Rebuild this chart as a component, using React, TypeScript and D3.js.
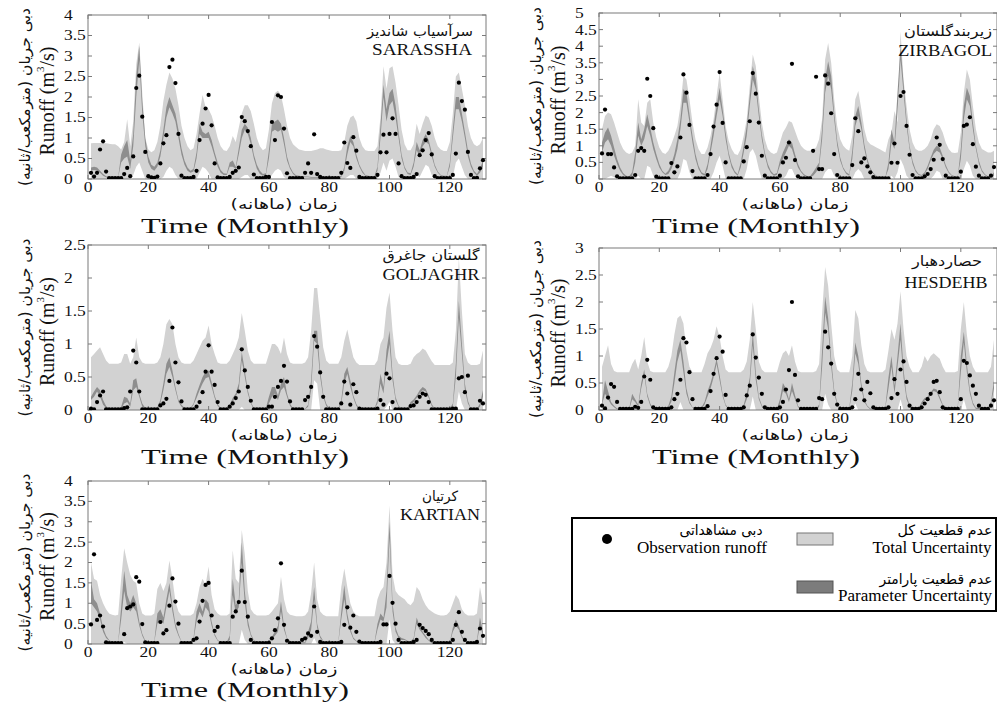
import React from 'react';
import * as d3 from 'd3';

// months 1..131, one value per month in every array below
const months = d3.range(1, 132);
const xTicks = [0, 20, 40, 60, 80, 100, 120];

// ---------- SARASSHA ----------
const obs1 = [
  0.15, 0.06, 0.15, 0.72, 0.92, 0.18, 0.02, 0.02, 0.02, 0.02,
  0.02, 0.12, 0.27, 0.07, 0.55, 2.22, 2.52, 1.52, 0.66, 0.07,
  0.04, 0.03, 0.06, 0.38, 0.87, 1.07, 2.73, 2.91, 2.34, 1.1,
  0.08, 0.02, 0.02, 0.02, 0.05, 0.2, 0.95, 1.35, 1.72, 2.05,
  1.31, 0.38, 0.04, 0.02, 0.02, 0.02, 0.05, 0.15, 0.2, 0.28,
  1.51, 1.41, 1.17, 0.8, 0.11, 0.02, 0.02, 0.02, 0.05, 0.05,
  1.39, 0.95, 2.04, 2.0, 1.23, 0.14, 0.02, 0.02, 0.02, 0.02,
  0.02, 0.15, 0.38, 0.15, 1.09, 0.12, 0.05, 0.02, 0.02, 0.02,
  0.02, 0.02, 0.02, 0.15, 0.89, 0.39, 0.27, 1.02, 0.69, 0.05,
  0.02, 0.02, 0.02, 0.02, 0.02, 0.1, 0.65, 1.08, 0.65, 1.1,
  1.48, 1.1, 0.38, 0.07, 0.02, 0.02, 0.02, 0.05, 0.12, 0.58,
  0.7, 0.95, 1.12, 0.6, 0.07, 0.02, 0.02, 0.02, 0.02, 0.02,
  0.1, 0.62, 2.35, 1.9, 1.69, 0.66, 0.1, 0.02, 0.03, 0.26, 0.46,
];
const totHi1 = [
  0.87, 0.88, 0.88, 0.88, 0.88, 0.87, 0.86, 0.85, 0.85, 0.8,
  0.72, 0.9, 1.46, 0.8, 1.4, 2.8, 3.33, 2.1, 1.0, 0.72,
  0.65, 0.7, 0.9, 1.3, 1.9, 2.3, 2.6, 2.45, 2.2, 1.8,
  1.3, 1.0, 0.8, 0.7, 0.75, 1.1, 1.6, 2.05, 1.75, 1.7,
  1.55, 1.3, 1.0, 0.8, 0.7, 0.68, 0.8, 1.05, 0.9, 1.25,
  1.6, 1.8, 1.8, 1.65, 1.35, 1.0, 0.8, 0.7, 0.75, 1.2,
  1.85, 2.1, 2.15, 2.05, 1.7, 1.3, 1.0, 0.85, 0.78, 0.72,
  0.7, 0.68, 0.68, 0.68, 0.7, 0.72, 0.75, 0.75, 0.72, 0.7,
  0.68, 0.68, 0.68, 0.7, 0.9, 1.3, 1.5, 1.55, 1.4, 1.0,
  0.8, 0.7, 0.68, 0.68, 0.68, 0.8, 1.5, 2.75, 2.2, 2.7,
  2.75, 2.35, 1.8, 1.2, 0.85, 0.7, 0.7, 0.85, 1.35, 1.1,
  1.35, 1.55, 1.5, 1.3, 1.0, 0.8, 0.72, 0.68, 0.68, 0.9,
  1.6, 2.5, 2.6, 2.2, 1.8, 1.3, 1.0, 0.85, 0.8, 0.85, 1.0,
];
const totLo1 = [
  0, 0, 0, 0, 0, 0, 0, 0, 0, 0,
  0, 0, 0, 0, 0.1, 0.3, 0.4, 0.2, 0, 0,
  0, 0, 0, 0, 0.05, 0.2, 0.3, 0.25, 0.1, 0,
  0, 0, 0, 0, 0, 0, 0.15, 0.3, 0.25, 0.15,
  0, 0, 0, 0, 0, 0, 0, 0, 0, 0,
  0.05, 0.1, 0.1, 0, 0, 0, 0, 0, 0, 0,
  0.1, 0.2, 0.25, 0.2, 0.05, 0, 0, 0, 0, 0,
  0, 0, 0, 0, 0, 0, 0, 0, 0, 0,
  0, 0, 0, 0, 0, 0.05, 0.1, 0.1, 0, 0,
  0, 0, 0, 0, 0, 0, 0.15, 0.4, 0.2, 0.45,
  0.5, 0.3, 0.05, 0, 0, 0, 0, 0, 0.1, 0.05,
  0.2, 0.35, 0.3, 0.1, 0, 0, 0, 0, 0, 0,
  0.05, 0.4, 0.5, 0.3, 0.1, 0, 0, 0, 0, 0, 0,
];
const parLo1 = [
  0.2, 0.22, 0.2, 0.15, 0.08, 0.04, 0.02, 0.02, 0.02, 0.03,
  0.4, 0.5, 0.55, 0.25, 0.8, 2.0, 2.9, 1.6, 0.8, 0.4,
  0.25, 0.2, 0.3, 0.55, 1.0, 1.5, 1.75, 1.6, 1.4, 1.0,
  0.6, 0.35, 0.2, 0.15, 0.18, 0.5, 1.1, 1.0, 1.0, 1.0,
  0.8, 0.55, 0.3, 0.15, 0.1, 0.1, 0.3, 0.3, 0.25, 0.6,
  1.0, 1.2, 1.1, 0.85, 0.5, 0.25, 0.12, 0.08, 0.1, 0.5,
  1.15, 1.2, 1.15, 1.2, 0.85, 0.45, 0.25, 0.12, 0.06, 0.05,
  0.05, 0.04, 0.04, 0.03, 0.03, 0.03, 0.02, 0.02, 0.02, 0.02,
  0.02, 0.02, 0.02, 0.05, 0.2, 0.6, 0.9, 0.8, 0.5, 0.3,
  0.15, 0.08, 0.05, 0.05, 0.05, 0.2, 1.0, 2.0, 1.4, 1.8,
  1.9, 1.5, 1.0, 0.5, 0.25, 0.12, 0.1, 0.3, 0.7, 0.55,
  0.8, 0.9, 0.85, 0.55, 0.3, 0.15, 0.08, 0.06, 0.06, 0.3,
  1.0, 1.7, 1.7, 1.4, 1.0, 0.55, 0.3, 0.15, 0.08, 0.15, 0.3,
];
const parHi1 = [
  0.28, 0.3, 0.28, 0.2, 0.12, 0.07, 0.04, 0.03, 0.03, 0.05,
  0.6, 0.8, 0.95, 0.45, 1.1, 2.5, 3.25, 1.9, 1.0, 0.55,
  0.35, 0.3, 0.4, 0.7, 1.2, 1.75, 2.0, 1.8, 1.6, 1.2,
  0.75, 0.45, 0.28, 0.2, 0.25, 0.65, 1.35, 1.15, 1.1, 1.15,
  0.95, 0.65, 0.4, 0.22, 0.14, 0.13, 0.4, 0.45, 0.3, 0.75,
  1.2, 1.35, 1.25, 1.0, 0.6, 0.35, 0.2, 0.12, 0.14, 0.7,
  1.35, 1.4, 1.45, 1.35, 1.0, 0.55, 0.3, 0.16, 0.09, 0.08,
  0.07, 0.06, 0.06, 0.05, 0.05, 0.05, 0.04, 0.04, 0.04, 0.04,
  0.04, 0.04, 0.04, 0.08, 0.3, 0.8, 1.05, 0.9, 0.6, 0.35,
  0.2, 0.1, 0.08, 0.07, 0.07, 0.3, 1.3, 2.3, 1.7, 2.1,
  2.2, 1.8, 1.15, 0.6, 0.3, 0.16, 0.14, 0.4, 0.9, 0.7,
  0.95, 1.1, 0.95, 0.65, 0.35, 0.18, 0.1, 0.08, 0.08, 0.4,
  1.2, 2.0, 2.0, 1.6, 1.15, 0.7, 0.38, 0.2, 0.12, 0.25, 0.45,
];

// ---------- ZIRBAGOL ----------
const obs2 = [
  0.77, 2.09, 0.75, 0.75, 0.35, 0.08, 0.02, 0.02, 0.02, 0.02,
  0.02, 0.12, 0.85, 0.93, 0.85, 3.02, 2.5, 1.53, 0.07, 0.02,
  0.02, 0.02, 0.02, 0.48, 0.2, 0.38, 1.25, 3.15, 2.6, 1.63,
  0.24, 0.02, 0.02, 0.02, 0.02, 0.12, 0.75, 1.58, 2.24, 3.22,
  1.69, 0.5, 0.02, 0.02, 0.02, 0.02, 0.02, 0.53, 0.96, 1.74,
  3.19, 2.57, 1.7, 0.7, 0.1, 0.02, 0.02, 0.02, 0.02, 0.1,
  0.5, 0.64, 1.1, 3.47, 0.57, 0.08, 0.02, 0.02, 0.02, 0.02,
  0.85, 3.08, 0.3, 0.3, 3.12, 2.87, 1.98, 0.75, 0.12, 0.02,
  0.02, 0.02, 0.02, 0.42, 1.83, 1.44, 0.5, 0.62, 0.38, 0.2,
  0.06, 0.02, 0.02, 0.02, 0.02, 0.02, 0.49, 1.07, 0.49, 2.5,
  2.62, 1.6, 0.73, 0.12, 0.02, 0.02, 0.02, 0.08, 0.15, 0.3,
  0.58, 1.25, 1.03, 0.6, 0.1, 0.02, 0.02, 0.02, 0.02, 0.22,
  1.6, 1.64, 1.86, 1.05, 0.37, 0.1, 0.02, 0.02, 0.02, 0.1, 0.36,
];
const totHi2 = [
  1.5, 1.9, 2.0, 1.95, 1.7, 1.4, 1.1, 0.9, 0.8, 0.75,
  0.8, 1.0, 2.4, 1.7, 1.6, 2.3, 2.4, 1.7, 1.25, 0.95,
  0.8, 0.75, 0.85, 1.05, 1.3, 1.6, 2.2, 3.1, 3.0, 2.4,
  1.7, 1.2, 0.9, 0.75, 0.75, 0.95, 1.3, 1.8, 2.5, 3.2,
  2.4, 1.6, 1.15, 0.9, 0.75, 0.72, 0.9, 1.3, 1.8, 2.8,
  3.75, 3.4, 2.5, 1.7, 1.2, 0.9, 0.8, 0.75, 0.8, 1.1,
  1.4, 1.55, 1.75, 1.7, 1.45, 1.2, 1.0, 0.9, 0.85, 0.85,
  0.9, 0.95, 1.2, 1.8, 3.6, 4.1, 3.5, 2.4, 1.6, 1.2,
  1.0, 0.9, 0.85, 1.3, 2.4, 2.65, 2.1, 1.5, 1.15, 1.05,
  1.0, 0.95, 0.9, 0.85, 0.8, 1.2, 1.4, 2.05, 1.7, 4.45,
  3.0, 2.2, 1.5, 1.1, 0.9, 0.85, 0.85, 0.9, 1.0, 1.2,
  1.5, 1.65, 1.6, 1.4, 1.1, 0.9, 0.8, 0.78, 0.8, 1.4,
  2.6, 3.3, 3.0, 2.2, 1.5, 1.1, 0.9, 0.85, 0.8, 0.8, 0.85,
];
const totLo2 = [
  0, 0, 0.05, 0.1, 0.05, 0, 0, 0, 0, 0,
  0, 0, 0.1, 0, 0, 0.4, 0.35, 0.1, 0, 0,
  0, 0, 0, 0, 0, 0, 0.2, 0.6, 0.55, 0.2,
  0, 0, 0, 0, 0, 0, 0, 0.2, 0.5, 0.7,
  0.4, 0, 0, 0, 0, 0, 0, 0, 0.3, 0.8,
  0.9, 0.7, 0.3, 0, 0, 0, 0, 0, 0, 0,
  0, 0.1, 0.3, 0.3, 0.1, 0, 0, 0, 0, 0,
  0, 0, 0, 0, 0.2, 0.3, 0.3, 0.1, 0, 0,
  0, 0, 0, 0, 0.2, 0.3, 0.2, 0, 0, 0,
  0, 0, 0, 0, 0, 0, 0.1, 0, 0.2, 0.6,
  0.4, 0.1, 0, 0, 0, 0, 0, 0, 0, 0,
  0.1, 0.25, 0.2, 0, 0, 0, 0, 0, 0, 0,
  0.3, 0.55, 0.4, 0.1, 0, 0, 0, 0, 0, 0, 0,
];
const parLo2 = [
  0.8, 1.1, 1.2, 1.0, 0.7, 0.45, 0.25, 0.12, 0.06, 0.05,
  0.1, 0.5, 1.3, 1.0, 1.2, 1.6, 1.3, 0.9, 0.6, 0.35,
  0.2, 0.12, 0.15, 0.3, 0.55, 0.9, 1.5, 2.3, 2.3, 1.7,
  1.1, 0.6, 0.3, 0.15, 0.1, 0.3, 0.8, 1.3, 1.9, 2.4,
  1.9, 1.2, 0.7, 0.35, 0.18, 0.1, 0.35, 0.8, 1.3, 2.2,
  3.0, 2.7, 1.9, 1.2, 0.7, 0.35, 0.18, 0.1, 0.12, 0.4,
  0.6, 0.8, 1.0, 0.9, 0.6, 0.35, 0.2, 0.1, 0.06, 0.05,
  0.1, 0.2, 0.35, 1.2, 2.6, 3.1, 2.7, 1.8, 1.0, 0.55,
  0.3, 0.15, 0.1, 0.6, 1.6, 1.9, 1.5, 0.9, 0.5, 0.28,
  0.15, 0.08, 0.05, 0.05, 0.05, 0.3, 1.1, 0.9, 2.0, 3.6,
  2.6, 1.6, 0.9, 0.45, 0.22, 0.12, 0.1, 0.15, 0.3, 0.55,
  0.75, 0.85, 0.8, 0.6, 0.35, 0.18, 0.1, 0.06, 0.08, 0.6,
  1.8, 2.4, 2.2, 1.5, 0.9, 0.45, 0.22, 0.11, 0.06, 0.05, 0.1,
];
const parHi2 = [
  1.1, 1.4, 1.55, 1.3, 0.95, 0.6, 0.35, 0.18, 0.1, 0.08,
  0.2, 0.8, 1.7, 1.2, 1.5, 1.95, 1.55, 1.1, 0.75, 0.45,
  0.25, 0.16, 0.25, 0.45, 0.75, 1.2, 1.8, 2.7, 2.6, 1.95,
  1.3, 0.75, 0.4, 0.2, 0.15, 0.45, 1.0, 1.6, 2.2, 2.75,
  2.1, 1.4, 0.8, 0.45, 0.24, 0.14, 0.5, 1.0, 1.6, 2.5,
  3.4, 3.0, 2.1, 1.35, 0.8, 0.45, 0.24, 0.14, 0.18, 0.55,
  0.8, 1.0, 1.2, 1.1, 0.75, 0.45, 0.25, 0.14, 0.09, 0.08,
  0.2, 0.35, 0.5, 1.5, 3.0, 3.55, 3.1, 2.0, 1.15, 0.65,
  0.35, 0.2, 0.14, 0.85, 1.9, 2.2, 1.7, 1.05, 0.6, 0.33,
  0.18, 0.1, 0.07, 0.07, 0.07, 0.5, 1.5, 1.1, 2.6, 4.0,
  2.9, 1.8, 1.0, 0.55, 0.28, 0.15, 0.12, 0.2, 0.4, 0.65,
  0.88, 1.0, 0.95, 0.7, 0.42, 0.22, 0.12, 0.08, 0.1, 0.9,
  2.2, 2.75, 2.5, 1.7, 1.0, 0.55, 0.27, 0.14, 0.08, 0.07, 0.2,
];

// ---------- GOLJAGHR ----------
const obs3 = [
  0.02, 0.01, 0.12, 0.22, 0.28, 0.01, 0.01, 0.01, 0.01, 0.01,
  0.01, 0.03, 0.04, 0.28, 0.9, 0.72, 0.28, 0.01, 0.01, 0.01,
  0.01, 0.01, 0.01, 0.07, 0.1, 0.17, 0.44, 1.25, 0.72, 0.42,
  0.13, 0.01, 0.01, 0.01, 0.01, 0.05, 0.12, 0.27, 0.58, 0.98,
  0.58, 0.38, 0.12, 0.01, 0.01, 0.01, 0.05, 0.1, 0.18, 0.28,
  0.92, 0.6, 0.35, 0.14, 0.01, 0.01, 0.01, 0.01, 0.01, 0.05,
  0.05, 0.2, 0.35, 0.44, 0.67, 0.43, 0.13, 0.01, 0.01, 0.01,
  0.01, 0.15, 0.2, 0.35, 1.12, 0.96, 0.57, 0.2, 0.01, 0.01,
  0.01, 0.01, 0.01, 0.1, 0.43, 0.25, 0.08, 0.39, 0.27, 0.02,
  0.01, 0.01, 0.01, 0.01, 0.01, 0.02, 0.15, 0.08, 0.55, 0.48,
  0.12, 0.01, 0.01, 0.01, 0.01, 0.01, 0.06, 0.07, 0.12, 0.2,
  0.25, 0.23, 0.12, 0.01, 0.01, 0.01, 0.01, 0.01, 0.01, 0.01,
  0.02, 0.02, 0.48, 0.5, 0.27, 0.52, 0.01, 0.01, 0.01, 0.14, 0.1,
];
const totHi3 = [
  0.8, 0.85, 0.9, 0.95, 0.85, 0.75, 0.7, 0.7, 0.7, 0.7,
  0.72, 0.85, 0.85, 0.7, 0.8, 1.1, 0.8, 0.72, 0.7, 0.7,
  0.7, 0.7, 0.72, 0.8, 1.0, 1.3, 1.38, 1.3, 1.0, 0.8,
  0.72, 0.7, 0.7, 0.7, 0.75, 0.85, 0.95, 1.05, 1.1, 1.28,
  1.0, 0.85, 0.72, 0.7, 0.7, 0.7, 0.75, 0.85, 0.95, 1.1,
  1.47, 1.2, 0.9, 0.75, 0.7, 0.7, 0.7, 0.7, 0.7, 0.85,
  1.0, 1.0, 0.95, 0.85, 1.1, 0.85, 0.72, 0.7, 0.7, 0.7,
  0.7, 0.72, 0.8, 1.2, 1.85, 1.85, 1.4, 0.95, 0.75, 0.7,
  0.7, 0.7, 0.7, 0.8, 1.05, 1.22, 1.0, 0.8, 0.72, 0.68,
  0.68, 0.68, 0.68, 0.68, 0.68, 0.75, 1.0, 1.1, 1.55, 1.78,
  1.2, 0.8, 0.7, 0.68, 0.68, 0.68, 0.7, 0.8, 0.85, 0.88,
  0.93, 0.9, 0.82, 0.74, 0.68, 0.68, 0.68, 0.68, 0.68, 0.68,
  0.72, 1.2, 2.3, 1.5, 0.85, 0.72, 0.68, 0.68, 0.68, 0.7, 0.9,
];
const totLo3 = [
  0, 0, 0, 0, 0, 0, 0, 0, 0, 0,
  0, 0, 0, 0, 0, 0, 0, 0, 0, 0,
  0, 0, 0, 0, 0, 0, 0, 0, 0, 0,
  0, 0, 0, 0, 0, 0, 0, 0, 0, 0,
  0, 0, 0, 0, 0, 0, 0, 0, 0, 0,
  0.05, 0, 0, 0, 0, 0, 0, 0, 0, 0,
  0, 0, 0, 0, 0, 0, 0, 0, 0, 0,
  0, 0, 0, 0, 0.45, 0.4, 0, 0, 0, 0,
  0, 0, 0, 0, 0, 0, 0, 0, 0, 0,
  0, 0, 0, 0, 0, 0, 0, 0, 0.05, 0.12,
  0, 0, 0, 0, 0, 0, 0, 0, 0, 0,
  0, 0, 0, 0, 0, 0, 0, 0, 0, 0,
  0, 0, 0.28, 0.1, 0, 0, 0, 0, 0, 0, 0,
];
const parLo3 = [
  0.15, 0.2, 0.28, 0.2, 0.08, 0.03, 0.01, 0.01, 0.01, 0.01,
  0.02, 0.1, 0.12, 0.05, 0.3, 0.35, 0.2, 0.05, 0.01, 0.01,
  0.01, 0.01, 0.02, 0.1, 0.3, 0.55, 0.65, 0.5, 0.3, 0.12,
  0.05, 0.01, 0.01, 0.01, 0.08, 0.18, 0.3, 0.4, 0.48, 0.5,
  0.35, 0.18, 0.06, 0.01, 0.01, 0.01, 0.05, 0.12, 0.2, 0.3,
  0.75, 0.5, 0.25, 0.1, 0.01, 0.01, 0.01, 0.01, 0.01, 0.1,
  0.2, 0.25, 0.15, 0.3, 0.35, 0.2, 0.06, 0.01, 0.01, 0.01,
  0.01, 0.01, 0.05, 0.3, 1.05, 1.0, 0.5, 0.2, 0.06, 0.01,
  0.01, 0.01, 0.01, 0.1, 0.4, 0.55, 0.35, 0.18, 0.06, 0.01,
  0.01, 0.01, 0.01, 0.01, 0.01, 0.1, 0.4, 0.25, 0.7, 1.0,
  0.45, 0.15, 0.05, 0.01, 0.01, 0.01, 0.08, 0.12, 0.18, 0.25,
  0.3, 0.28, 0.18, 0.06, 0.01, 0.01, 0.01, 0.01, 0.01, 0.01,
  0.05, 0.5, 1.4, 0.85, 0.3, 0.1, 0.01, 0.01, 0.01, 0.05, 0.2,
];
const parHi3 = [
  0.2, 0.28, 0.35, 0.3, 0.15, 0.06, 0.02, 0.02, 0.02, 0.02,
  0.05, 0.2, 0.18, 0.1, 0.45, 0.48, 0.25, 0.1, 0.03, 0.03,
  0.03, 0.03, 0.04, 0.15, 0.4, 0.7, 0.8, 0.6, 0.35, 0.15,
  0.08, 0.03, 0.03, 0.03, 0.1, 0.25, 0.38, 0.5, 0.58, 0.6,
  0.42, 0.22, 0.09, 0.03, 0.03, 0.03, 0.08, 0.18, 0.25, 0.4,
  0.88, 0.6, 0.3, 0.12, 0.03, 0.03, 0.03, 0.03, 0.03, 0.2,
  0.35, 0.35, 0.22, 0.4, 0.5, 0.25, 0.1, 0.02, 0.02, 0.02,
  0.02, 0.02, 0.08, 0.45, 1.2, 1.2, 0.6, 0.25, 0.1, 0.02,
  0.02, 0.02, 0.02, 0.15, 0.55, 0.65, 0.45, 0.22, 0.09, 0.02,
  0.02, 0.02, 0.02, 0.02, 0.02, 0.15, 0.55, 0.35, 0.9, 1.2,
  0.55, 0.2, 0.07, 0.02, 0.02, 0.02, 0.12, 0.16, 0.22, 0.3,
  0.35, 0.32, 0.22, 0.09, 0.02, 0.02, 0.02, 0.02, 0.02, 0.02,
  0.1, 0.7, 1.65, 1.0, 0.4, 0.14, 0.02, 0.02, 0.02, 0.1, 0.3,
];

// ---------- HESDEHB ----------
const obs4 = [
  0.08, 0.03, 0.23, 0.48, 0.43, 0.15, 0.02, 0.02, 0.02, 0.02,
  0.02, 0.06, 0.04, 0.15, 0.62, 0.93, 0.56, 0.05, 0.02, 0.02,
  0.02, 0.02, 0.02, 0.05, 0.2, 0.3, 0.56, 1.33, 1.25, 0.7,
  0.2, 0.02, 0.02, 0.02, 0.02, 0.07, 0.35, 0.67, 0.96, 1.36,
  1.08, 0.28, 0.02, 0.02, 0.02, 0.02, 0.02, 0.05, 0.27, 0.45,
  1.4, 0.97, 0.6, 0.3, 0.05, 0.02, 0.02, 0.02, 0.02, 0.05,
  0.15, 0.38, 0.74, 2.0, 0.65, 0.18, 0.02, 0.02, 0.02, 0.02,
  0.02, 0.02, 0.22, 0.2, 1.45, 1.16, 0.86, 0.3, 0.1, 0.02,
  0.02, 0.02, 0.02, 0.05, 0.2, 0.67, 0.38, 0.18, 0.52, 0.31,
  0.05, 0.02, 0.02, 0.02, 0.02, 0.05, 0.22, 0.57, 0.3, 0.75,
  0.9, 0.52, 0.08, 0.02, 0.02, 0.02, 0.05, 0.12, 0.2, 0.3,
  0.52, 0.54, 0.33, 0.05, 0.02, 0.02, 0.02, 0.02, 0.02, 0.2,
  0.91, 0.87, 0.64, 0.45, 0.3, 0.08, 0.02, 0.02, 0.02, 0.08, 0.18,
];
const totHi4 = [
  0.8, 1.0, 1.2, 0.85, 0.72, 0.7, 0.7, 0.7, 0.7, 0.7,
  0.85, 0.95, 0.75, 1.0, 1.35, 0.9, 0.72, 0.7, 0.7, 0.7,
  0.7, 0.7, 0.8, 1.0, 1.4, 1.7, 1.75, 1.6, 1.1, 0.8,
  0.7, 0.7, 0.7, 0.7, 0.85, 1.05, 1.15, 1.3, 1.55, 1.35,
  1.0, 0.75, 0.7, 0.7, 0.7, 0.7, 0.7, 0.75, 0.9, 1.3,
  2.0, 1.5, 0.9, 0.75, 0.7, 0.7, 0.7, 0.7, 0.7, 0.9,
  1.05, 1.1, 1.0, 1.2, 0.9, 0.72, 0.7, 0.7, 0.7, 0.7,
  0.7, 0.72, 0.85, 1.8, 2.65, 2.3, 1.6, 1.0, 0.75, 0.7,
  0.7, 0.7, 0.7, 1.0, 1.85, 1.7, 1.2, 0.85, 0.72, 0.7,
  0.7, 0.7, 0.7, 0.7, 0.75, 1.1, 1.5, 1.3, 1.6, 2.2,
  1.5, 1.0, 0.8, 0.7, 0.7, 0.7, 0.8, 1.0, 0.9, 1.0,
  1.05, 1.0, 0.95, 0.8, 0.7, 0.7, 0.7, 0.7, 0.72, 1.5,
  2.0, 1.4, 1.0, 0.8, 0.7, 0.7, 0.7, 0.7, 0.7, 0.8, 1.3,
];
const totLo4 = [
  0, 0, 0, 0, 0, 0, 0, 0, 0, 0,
  0, 0, 0, 0, 0, 0, 0, 0, 0, 0,
  0, 0, 0, 0, 0, 0, 0.15, 0, 0, 0,
  0, 0, 0, 0, 0, 0, 0, 0, 0, 0,
  0, 0, 0, 0, 0, 0, 0, 0, 0, 0,
  0.25, 0, 0, 0, 0, 0, 0, 0, 0, 0,
  0, 0, 0, 0, 0, 0, 0, 0, 0, 0,
  0, 0, 0, 0, 0.3, 0.1, 0, 0, 0, 0,
  0, 0, 0, 0, 0.12, 0, 0, 0, 0, 0,
  0, 0, 0, 0, 0, 0, 0, 0, 0, 0.2,
  0, 0, 0, 0, 0, 0, 0, 0, 0, 0,
  0, 0, 0, 0, 0, 0, 0, 0, 0, 0,
  0.2, 0, 0, 0, 0, 0, 0, 0, 0, 0, 0,
];
const parLo4 = [
  0.1, 0.3, 0.2, 0.1, 0.05, 0.01, 0.01, 0.01, 0.01, 0.01,
  0.2, 0.15, 0.05, 0.4, 0.65, 0.25, 0.08, 0.01, 0.01, 0.01,
  0.01, 0.01, 0.05, 0.15, 0.5, 0.9, 1.1, 0.7, 0.3, 0.12,
  0.04, 0.02, 0.02, 0.02, 0.1, 0.25, 0.4, 0.6, 0.85, 0.55,
  0.25, 0.08, 0.01, 0.01, 0.01, 0.01, 0.01, 0.05, 0.2, 0.45,
  1.2, 0.55, 0.2, 0.06, 0.01, 0.01, 0.01, 0.01, 0.01, 0.1,
  0.35, 0.3, 0.15, 0.35, 0.2, 0.05, 0.01, 0.01, 0.01, 0.01,
  0.01, 0.01, 0.05, 0.8, 1.8, 1.5, 0.8, 0.3, 0.1, 0.02,
  0.02, 0.02, 0.02, 0.35, 1.05, 0.85, 0.4, 0.15, 0.06, 0.01,
  0.01, 0.01, 0.01, 0.01, 0.05, 0.4, 0.8, 0.3, 0.8, 1.3,
  0.6, 0.2, 0.06, 0.01, 0.01, 0.01, 0.1, 0.18, 0.2, 0.28,
  0.35, 0.33, 0.2, 0.08, 0.01, 0.01, 0.01, 0.01, 0.05, 0.7,
  1.25, 0.7, 0.3, 0.1, 0.02, 0.02, 0.02, 0.02, 0.02, 0.1, 0.4,
];
const parHi4 = [
  0.15, 0.55, 0.35, 0.15, 0.08, 0.03, 0.03, 0.03, 0.03, 0.03,
  0.3, 0.2, 0.1, 0.5, 0.75, 0.3, 0.12, 0.03, 0.03, 0.03,
  0.03, 0.03, 0.08, 0.25, 0.7, 1.1, 1.3, 0.9, 0.4, 0.16,
  0.05, 0.05, 0.05, 0.05, 0.15, 0.35, 0.5, 0.7, 0.95, 0.65,
  0.3, 0.1, 0.03, 0.03, 0.03, 0.03, 0.03, 0.1, 0.3, 0.6,
  1.45, 0.7, 0.25, 0.09, 0.02, 0.02, 0.02, 0.02, 0.02, 0.2,
  0.5, 0.4, 0.2, 0.5, 0.28, 0.08, 0.02, 0.02, 0.02, 0.02,
  0.02, 0.02, 0.1, 1.1, 2.1, 1.7, 0.95, 0.38, 0.14, 0.04,
  0.04, 0.04, 0.04, 0.5, 1.25, 1.0, 0.5, 0.2, 0.08, 0.03,
  0.03, 0.03, 0.03, 0.03, 0.08, 0.6, 1.0, 0.45, 1.0, 1.6,
  0.75, 0.28, 0.09, 0.03, 0.03, 0.03, 0.15, 0.22, 0.25, 0.33,
  0.4, 0.38, 0.25, 0.1, 0.02, 0.02, 0.02, 0.02, 0.08, 1.0,
  1.45, 0.85, 0.38, 0.14, 0.04, 0.04, 0.04, 0.04, 0.04, 0.15, 0.55,
];

// ---------- KARTIAN ----------
const obs5 = [
  0.48, 2.2, 0.59, 0.7, 0.43, 0.04, 0.02, 0.02, 0.02, 0.02,
  0.02, 0.24, 0.88, 0.92, 0.97, 1.64, 1.53, 0.49, 0.04, 0.02,
  0.02, 0.02, 0.02, 0.54, 0.26, 0.34, 0.94, 1.61, 1.04, 0.5,
  0.02, 0.02, 0.02, 0.02, 0.1, 0.14, 0.55, 1.06, 1.45, 1.5,
  0.7, 0.32, 0.42, 0.02, 0.02, 0.02, 0.02, 0.67, 0.8, 1.03,
  1.8, 1.03, 0.67, 0.1, 0.02, 0.02, 0.02, 0.02, 0.02, 0.03,
  0.14, 0.34, 0.63, 1.98, 0.47, 0.08, 0.02, 0.02, 0.02, 0.02,
  0.1, 0.14, 0.26, 0.2, 0.92, 0.3, 0.05, 0.02, 0.02, 0.02,
  0.02, 0.02, 0.02, 0.05, 0.47, 0.9, 0.4, 0.7, 0.3, 0.06,
  0.02, 0.02, 0.02, 0.02, 0.02, 0.02, 0.05, 0.48, 0.48, 1.67,
  1.01, 0.5, 0.1, 0.02, 0.02, 0.02, 0.02, 0.05, 0.1, 0.47,
  0.39, 0.32, 0.24, 0.1, 0.02, 0.02, 0.02, 0.02, 0.02, 0.02,
  0.1, 0.47, 0.78, 0.3, 0.1, 0.02, 0.02, 0.02, 0.05, 0.38, 0.2,
];
const totHi5 = [
  2.0, 1.6, 1.55, 1.2, 1.0, 0.85, 0.75, 0.72, 0.7, 0.72,
  1.6, 2.35, 2.0, 1.7, 1.55, 1.5, 1.0, 0.75, 0.7, 0.7,
  0.7, 0.75, 1.35, 1.5, 1.3, 1.5, 2.05, 1.6, 1.05, 0.8,
  0.7, 0.7, 0.7, 0.7, 0.75, 1.0, 1.4, 1.6, 1.45, 1.9,
  1.2, 0.85, 0.75, 0.7, 0.7, 0.7, 0.75, 2.3, 1.6, 1.5,
  2.8, 2.2, 1.3, 0.85, 0.75, 0.7, 0.7, 0.7, 0.7, 0.72,
  0.8, 0.9, 1.0, 1.65, 1.1, 0.8, 0.72, 0.7, 0.68, 0.68,
  0.68, 0.7, 0.8, 1.25, 2.0, 1.1, 0.8, 0.72, 0.68, 0.68,
  0.68, 0.68, 0.68, 1.4, 1.85, 1.4, 1.0, 0.8, 0.72, 0.68,
  0.68, 0.68, 0.68, 0.68, 0.68, 1.1, 1.3, 1.4, 2.0, 3.4,
  1.7, 1.3, 1.2, 1.15, 1.1, 1.0, 0.95, 1.05, 1.4, 1.3,
  1.1, 0.95, 0.85, 0.8, 0.75, 0.72, 0.7, 0.7, 0.72, 0.8,
  1.0, 1.2, 1.1, 0.85, 0.75, 0.7, 0.7, 0.7, 0.75, 1.4, 1.0,
];
const totLo5 = [
  0, 0, 0, 0, 0, 0, 0, 0, 0, 0,
  0, 0.05, 0, 0, 0, 0, 0, 0, 0, 0,
  0, 0, 0, 0, 0, 0, 0, 0, 0, 0,
  0, 0, 0, 0, 0, 0, 0, 0, 0, 0,
  0, 0, 0, 0, 0, 0, 0, 0, 0, 0,
  0.35, 0.1, 0, 0, 0, 0, 0, 0, 0, 0,
  0, 0, 0, 0, 0, 0, 0, 0, 0, 0,
  0, 0, 0, 0, 0.15, 0, 0, 0, 0, 0,
  0, 0, 0, 0, 0, 0, 0, 0, 0, 0,
  0, 0, 0, 0, 0, 0, 0, 0, 0, 0.6,
  0.1, 0, 0, 0, 0, 0, 0, 0, 0, 0,
  0, 0, 0, 0, 0, 0, 0, 0, 0, 0,
  0, 0, 0, 0, 0, 0, 0, 0, 0, 0, 0,
];
const parLo5 = [
  1.0, 0.9, 0.8, 0.6, 0.3, 0.15, 0.08, 0.03, 0.03, 0.03,
  0.6, 1.3, 0.9, 0.8, 0.9, 0.8, 0.45, 0.2, 0.05, 0.03,
  0.03, 0.05, 0.5, 0.6, 0.5, 0.9, 1.3, 0.8, 0.4, 0.2,
  0.05, 0.03, 0.03, 0.03, 0.1, 0.55, 0.8, 0.65, 0.9, 0.8,
  0.45, 0.2, 0.08, 0.03, 0.03, 0.03, 0.1, 1.2, 0.75, 0.9,
  2.0, 1.0, 0.45, 0.2, 0.08, 0.03, 0.03, 0.03, 0.03, 0.05,
  0.12, 0.2, 0.3, 0.8, 0.35, 0.12, 0.05, 0.02, 0.02, 0.02,
  0.02, 0.02, 0.15, 0.35, 1.1, 0.4, 0.15, 0.06, 0.02, 0.02,
  0.02, 0.02, 0.02, 0.6, 1.1, 0.6, 0.3, 0.12, 0.06, 0.02,
  0.02, 0.02, 0.02, 0.02, 0.02, 0.35, 0.6, 0.55, 0.9, 2.6,
  0.8, 0.3, 0.15, 0.1, 0.1, 0.06, 0.05, 0.1, 0.5, 0.35,
  0.25, 0.15, 0.08, 0.02, 0.02, 0.02, 0.02, 0.02, 0.02, 0.02,
  0.3, 0.45, 0.35, 0.15, 0.06, 0.02, 0.02, 0.02, 0.05, 0.45, 0.2,
];
const parHi5 = [
  1.55, 1.1, 1.0, 0.75, 0.4, 0.2, 0.1, 0.05, 0.05, 0.05,
  0.9, 1.8, 1.2, 1.0, 1.2, 1.0, 0.55, 0.25, 0.08, 0.05,
  0.05, 0.08, 0.75, 0.85, 0.65, 1.1, 1.5, 0.95, 0.5, 0.25,
  0.06, 0.05, 0.05, 0.05, 0.15, 0.8, 1.0, 0.8, 1.1, 1.0,
  0.55, 0.25, 0.1, 0.05, 0.05, 0.05, 0.2, 1.6, 0.95, 1.1,
  2.5, 1.3, 0.6, 0.25, 0.1, 0.05, 0.05, 0.05, 0.05, 0.08,
  0.18, 0.3, 0.45, 1.05, 0.45, 0.15, 0.08, 0.04, 0.04, 0.04,
  0.04, 0.04, 0.3, 0.55, 1.4, 0.5, 0.2, 0.08, 0.04, 0.04,
  0.04, 0.04, 0.04, 0.8, 1.45, 0.75, 0.38, 0.16, 0.08, 0.04,
  0.04, 0.04, 0.04, 0.04, 0.04, 0.5, 0.75, 0.65, 1.3, 3.0,
  1.0, 0.4, 0.2, 0.15, 0.12, 0.08, 0.07, 0.15, 0.65, 0.45,
  0.3, 0.2, 0.1, 0.05, 0.05, 0.05, 0.05, 0.05, 0.05, 0.05,
  0.4, 0.6, 0.45, 0.2, 0.08, 0.03, 0.03, 0.03, 0.1, 0.65, 0.3,
];

const SERIF = '"Liberation Serif", "Times New Roman", serif';
const FA = '"DejaVu Sans", sans-serif';
const TOTAL_FILL = '#d2d2d2';
const PARAM_FILL = '#8e8e8e';

const panels = [
  { en: 'SARASSHA', fa: 'سرآسیاب شاندیز', obs: obs1, totLo: totLo1, totHi: totHi1, parLo: parLo1, parHi: parHi1, yMax: 4,
    box: { left: 88, right: 486, top: 15, bottom: 179 }, faY: 30, timeY: 54,
    faLbl: { cx: 420, y: 36, w: 106 }, enLbl: { cx: 422, y: 55, w: 100 } },
  { en: 'ZIRBAGOL', fa: 'زیربندگلستان', obs: obs2, totLo: totLo2, totHi: totHi2, parLo: parLo2, parHi: parHi2, yMax: 5,
    box: { left: 599, right: 997, top: 13, bottom: 179 }, faY: 30, timeY: 54,
    faLbl: { cx: 948, y: 36, w: 88 }, enLbl: { cx: 945, y: 56, w: 94 } },
  { en: 'GOLJAGHR', fa: 'گلستان جاغرق', obs: obs3, totLo: totLo3, totHi: totHi3, parLo: parLo3, parHi: parHi3, yMax: 2.5,
    box: { left: 88, right: 486, top: 245, bottom: 410 }, faY: 30, timeY: 54,
    faLbl: { cx: 431, y: 260, w: 97 }, enLbl: { cx: 431, y: 280, w: 97 } },
  { en: 'HESDEHB', fa: 'حصاردهبار', obs: obs4, totLo: totLo4, totHi: totHi4, parLo: parLo4, parHi: parHi4, yMax: 3,
    box: { left: 599, right: 997, top: 248, bottom: 410 }, faY: 30, timeY: 54,
    faLbl: { cx: 947, y: 266, w: 70 }, enLbl: { cx: 946, y: 288, w: 83 } },
  { en: 'KARTIAN', fa: 'کرتیان', obs: obs5, totLo: totLo5, totHi: totHi5, parLo: parLo5, parHi: parHi5, yMax: 4,
    box: { left: 88, right: 486, top: 481, bottom: 644 }, faY: 30, timeY: 53,
    faLbl: { cx: 440, y: 501, w: 36 }, enLbl: { cx: 440, y: 520, w: 80 } },
];

type PanelDef = typeof panels[number];

const Panel: React.FC<{ p: PanelDef; idx: number }> = ({ p, idx }) => {
  const { left, right, top, bottom } = p.box;
  const x = d3.scaleLinear().domain([0, 132]).range([left, right]);
  const y = d3.scaleLinear().domain([0, p.yMax]).range([bottom, top]);
  const band = (lo: number[], hi: number[]) =>
    d3.area<number>()
      .x((m) => x(m))
      .y0((_, i) => y(lo[i]))
      .y1((_, i) => y(hi[i]))(months) || '';
  const yTicks = d3.range(0, p.yMax + 0.001, 0.5);
  const clipId = `clip-${idx}`;
  const midY = (top + bottom) / 2;
  const tl = 4;

  return (
    <g>
      <defs>
        <clipPath id={clipId}>
          <rect x={left} y={top} width={right - left} height={bottom - top} />
        </clipPath>
      </defs>
      <g clipPath={`url(#${clipId})`}>
        <path d={band(p.totLo, p.totHi)} fill={TOTAL_FILL} />
        <path d={band(p.parLo, p.parHi)} fill={PARAM_FILL} />
      </g>
      <rect x={left} y={top} width={right - left} height={bottom - top} fill="none" stroke="#7a7a7a" strokeWidth={1} />
      {xTicks.map((t) => (
        <g key={`xt${t}`}>
          <line x1={x(t)} x2={x(t)} y1={bottom} y2={bottom - tl} stroke="#7a7a7a" />
          <line x1={x(t)} x2={x(t)} y1={top} y2={top + tl} stroke="#7a7a7a" />
          <g transform={`translate(${x(t)},${bottom + 13}) scale(1.25,1)`}>
            <text textAnchor="middle" fontFamily={SERIF} fontSize={14} fill="#111">{t}</text>
          </g>
        </g>
      ))}
      {yTicks.map((t) => (
        <g key={`yt${t}`}>
          <line x1={left} x2={left + tl} y1={y(t)} y2={y(t)} stroke="#7a7a7a" />
          <line x1={right} x2={right - tl} y1={y(t)} y2={y(t)} stroke="#7a7a7a" />
          <g transform={`translate(${left - 24},${y(t)}) scale(1.25,1)`}>
            <text textAnchor="start" dy="0.35em" fontFamily={SERIF} fontSize={14} fill="#111">{String(t)}</text>
          </g>
        </g>
      ))}
      <g clipPath={`url(#${clipId})`}>
        {p.obs.map((v, i) => (
          <circle key={i} cx={x(months[i])} cy={y(v)} r={2.1} fill="#000" />
        ))}
      </g>
      {/* station name */}
      <text x={p.faLbl.cx} y={p.faLbl.y} textAnchor="middle" fontFamily={FA} fontSize={14} fill="#111"
        textLength={p.faLbl.w} lengthAdjust="spacingAndGlyphs">{p.fa}</text>
      <text x={p.enLbl.cx} y={p.enLbl.y} textAnchor="middle" fontFamily={SERIF} fontSize={16} fill="#111"
        textLength={p.enLbl.w} lengthAdjust="spacingAndGlyphs">{p.en}</text>
      {/* axis titles */}
      <text x={left + 196} y={bottom + p.faY} textAnchor="middle" fontFamily={FA} fontSize={14} fill="#111"
        textLength={107} lengthAdjust="spacingAndGlyphs">زمان (ماهانه)</text>
      <text x={left + 157} y={bottom + p.timeY} textAnchor="middle" fontFamily={SERIF} fontSize={22} fill="#111"
        textLength={208} lengthAdjust="spacingAndGlyphs">Time (Monthly)</text>
      <text transform={`translate(${left - 41},${midY + 4}) rotate(-90)`} textAnchor="middle" dominantBaseline="central"
        fontFamily={SERIF} fontSize={20} fill="#111">
        Runoff (m<tspan fontSize={11} dy={-7}>3</tspan><tspan dy={7}>/s)</tspan>
      </text>
      <text transform={`translate(${left - 63},${midY}) rotate(-90)`} textAnchor="middle" dominantBaseline="central"
        fontFamily={FA} fontSize={15} fill="#111" textLength={178} lengthAdjust="spacingAndGlyphs">
        دبی جریان (مترمکعب/ثانیه)
      </text>
    </g>
  );
};

const Legend: React.FC = () => (
  <g>
    <rect x={572} y={518} width={424} height={93} fill="#fff" stroke="#000" strokeWidth={2} />
    <circle cx={607} cy={539} r={5} fill="#000" />
    <text x={721} y={535} textAnchor="middle" fontFamily={FA} fontSize={14} textLength={83} lengthAdjust="spacingAndGlyphs">دبی مشاهداتی</text>
    <text x={702} y={553} textAnchor="middle" fontFamily={SERIF} fontSize={16} textLength={130} lengthAdjust="spacingAndGlyphs">Observation runoff</text>
    <rect x={797} y={533} width={36} height={12} fill={TOTAL_FILL} stroke="#777" />
    <text x={945} y={535} textAnchor="middle" fontFamily={FA} fontSize={14} textLength={95} lengthAdjust="spacingAndGlyphs">عدم قطعیت کل</text>
    <text x={932} y={553} textAnchor="middle" fontFamily={SERIF} fontSize={16} textLength={119} lengthAdjust="spacingAndGlyphs">Total Uncertainty</text>
    <rect x={797} y={581} width={36} height={12} fill="#7c7c7c" stroke="#555" />
    <text x={936} y={584} textAnchor="middle" fontFamily={FA} fontSize={14} textLength={113} lengthAdjust="spacingAndGlyphs">عدم قطعیت پارامتر</text>
    <text x={915} y={601} textAnchor="middle" fontFamily={SERIF} fontSize={16} textLength={154} lengthAdjust="spacingAndGlyphs">Parameter Uncertainty</text>
  </g>
);

export default function App() {
  return (
    <svg width={997} height={702} style={{ position: 'absolute', left: 0, top: 0, background: '#fff' }}>
      <rect width={997} height={702} fill="#fff" />
      {panels.map((p, i) => <Panel key={p.en} p={p} idx={i} />)}
      <Legend />
    </svg>
  );
}
